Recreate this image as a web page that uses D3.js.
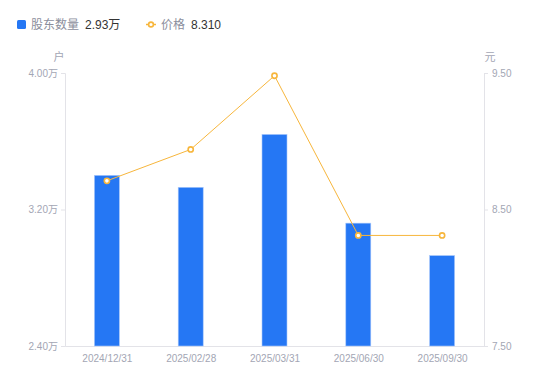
<!DOCTYPE html>
<html><head><meta charset="utf-8">
<script src="https://cdn.jsdelivr.net/npm/d3@7"></script>
<style>body{margin:0;background:#fff;font-family:"Liberation Sans","Noto Sans CJK SC",sans-serif}</style>
</head><body><svg id="c" width="550" height="381"></svg>
<script>
const categories=["2024/12/31","2025/02/28","2025/03/31","2025/06/30","2025/09/30"];
const holders=[3.40,3.33,3.64,3.12,2.93];
const prices=[8.71,8.94,9.48,8.31,8.31];
const leftTicks=[2.4,3.2,4.0];
const rightTicks=[7.5,8.5,9.5];

const svg=d3.select("#c");
const L=65,R=484,T=73,B=346;
const xc=d3.scalePoint().domain(categories).range([L,R]).padding(0.5);
const yL=d3.scaleLinear().domain([2.4,4.0]).range([B,T]);
const yR=d3.scaleLinear().domain([7.5,9.5]).range([B,T]);
const gray="#a3a6b4", axisC="#e3e3e8";
const font='"Liberation Sans","Noto Sans CJK SC",sans-serif';

const gl=svg.append("g").attr("transform",`translate(${L},0)`).call(d3.axisLeft(yL).tickValues(leftTicks).tickSize(4).tickPadding(3).tickFormat(d=>d.toFixed(2)+"万"));
const gr=svg.append("g").attr("transform",`translate(${R},0)`).call(d3.axisRight(yR).tickValues(rightTicks).tickSize(4).tickPadding(4).tickFormat(d=>d.toFixed(2)));
const gb=svg.append("g").attr("transform",`translate(0,${B})`).call(d3.axisBottom(xc).tickSize(0).tickPadding(7));
[gl,gr,gb].forEach(g=>{
  g.select(".domain").attr("stroke",axisC);
  g.selectAll(".tick line").attr("stroke",axisC);
  g.selectAll("text").attr("fill",gray).style("font-family",font).style("font-size","10px");
});
gb.selectAll("text").attr("dy","0.9em");

svg.append("g").selectAll("rect").data(categories).join("rect")
 .attr("x",d=>xc(d)-12.5).attr("width",25)
 .attr("y",(d,i)=>yL(holders[i])).attr("height",(d,i)=>B-yL(holders[i]))
 .attr("fill","#2577f4").attr("stroke","#a9c8fb").attr("stroke-width",0.6);

const line=d3.line().x((d,i)=>xc(categories[i])).y(d=>yR(d));
svg.append("path").datum(prices).attr("d",line).attr("fill","none").attr("stroke","#f7b63c").attr("stroke-width",1);
svg.append("g").selectAll("circle").data(prices).join("circle")
 .attr("cx",(d,i)=>xc(categories[i])).attr("cy",d=>yR(d)).attr("r",2.6)
 .attr("fill","#fff").attr("stroke","#f7b63c").attr("stroke-width",1.6);

svg.append("text").attr("x",59).attr("y",61).attr("text-anchor","middle").attr("fill",gray).style("font-family",font).style("font-size","11px").text("户");
svg.append("text").attr("x",490).attr("y",61).attr("text-anchor","middle").attr("fill",gray).style("font-family",font).style("font-size","11px").text("元");

const lg=svg.append("g").style("font-family",font).style("font-size","12px");
lg.append("rect").attr("x",17).attr("y",20).attr("width",9).attr("height",9).attr("rx",1.5).attr("fill","#2577f4");
lg.append("text").attr("x",31).attr("y",29).attr("fill","#8b8e9c").text("股东数量");
lg.append("text").attr("x",85).attr("y",29).attr("fill","#333").text(holders[holders.length-1].toFixed(2)+"万");
lg.append("line").attr("x1",146).attr("x2",156).attr("y1",24.5).attr("y2",24.5).attr("stroke","#f7b63c").attr("stroke-width",1.5);
lg.append("circle").attr("cx",151).attr("cy",24.5).attr("r",2.4).attr("fill","#fff").attr("stroke","#f7b63c").attr("stroke-width",1.6);
lg.append("text").attr("x",161).attr("y",29).attr("fill","#8b8e9c").text("价格");
lg.append("text").attr("x",191).attr("y",29).attr("fill","#333").text(prices[prices.length-1].toFixed(3));
</script></body></html>
